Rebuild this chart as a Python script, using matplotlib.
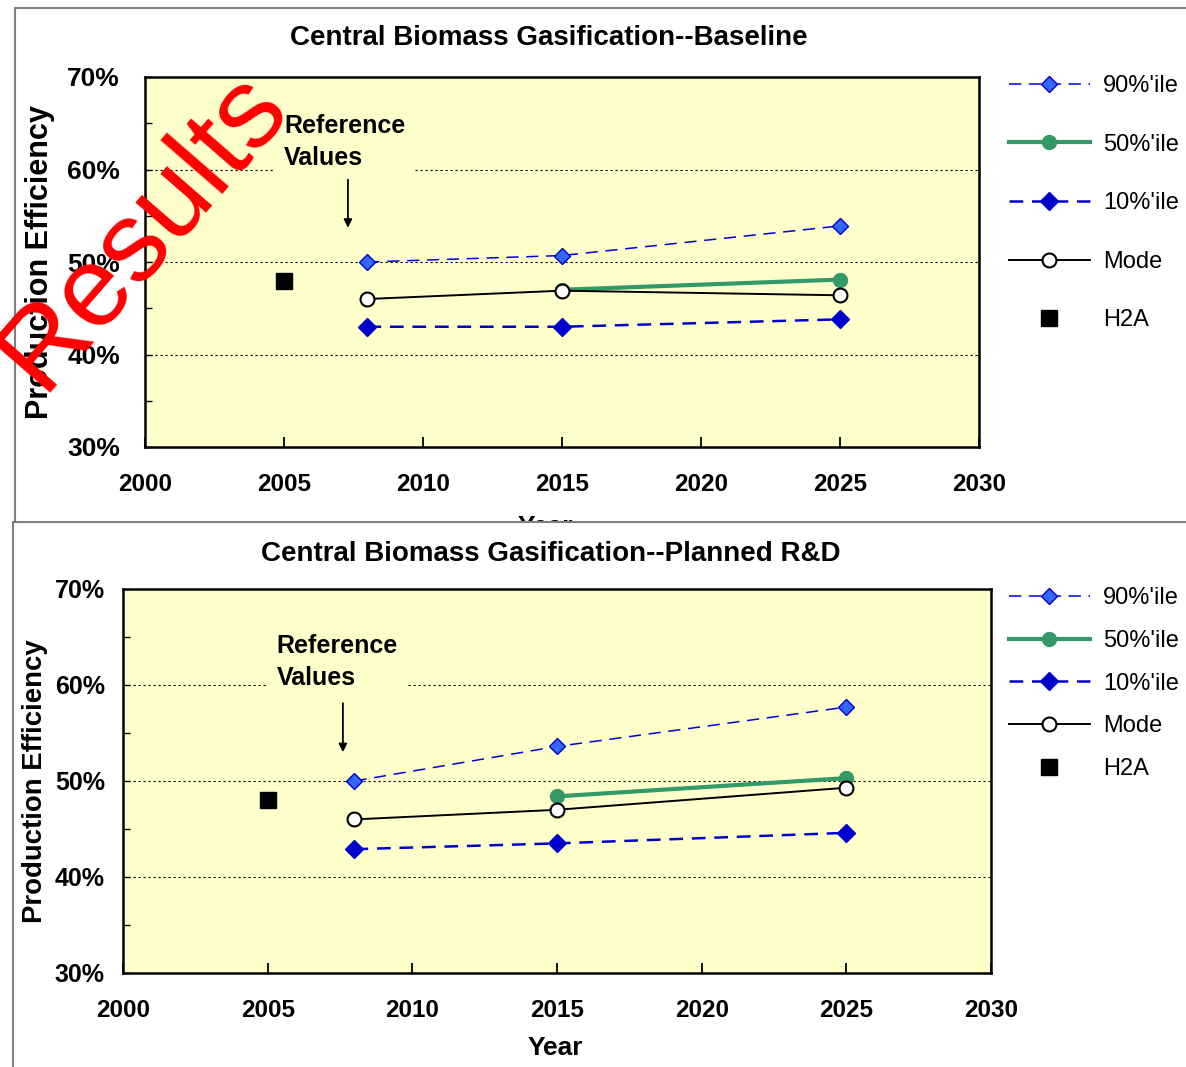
import matplotlib
matplotlib.use("Agg")
import matplotlib.pyplot as plt
from matplotlib.patches import Rectangle
from matplotlib.ticker import FixedLocator

W, H, DPI = 1186, 1067, 100

# ---- data -------------------------------------------------------------
years = [2008, 2015, 2025]
years_p50 = [2015, 2025]
h2a_year = [2005]

base_p90 = [50.0, 50.7, 53.9]
base_p50 = [47.0, 48.1]
base_p10 = [43.0, 43.0, 43.8]
base_mode = [46.0, 46.9, 46.4]
base_h2a = [48.0]

rd_p90 = [50.0, 53.6, 57.7]
rd_p50 = [48.4, 50.3]
rd_p10 = [42.9, 43.5, 44.6]
rd_mode = [46.0, 47.0, 49.3]
rd_h2a = [48.0]

x_ticks = [2000, 2005, 2010, 2015, 2020, 2025, 2030]
y_ticks = [30, 40, 50, 60, 70]
y_minor = [35, 45, 55, 65]
legend_labels = ["90%'ile", "50%'ile", "10%'ile", "Mode", "H2A"]

FACE = "#FFFFCC"
BOLD_FONT = ["Liberation Sans Narrow", "Liberation Sans", "DejaVu Sans"]
PLAIN_FONT = ["Liberation Sans Narrow", "Liberation Sans", "DejaVu Sans"]
TITLE_FONT = ["Liberation Sans", "DejaVu Sans"]


def fx(px):
    return px / W


def fy(py):
    return 1 - py / H


def axes_rect(left, top, right, bottom):
    return [left / W, 1 - bottom / H, (right - left) / W, (bottom - top) / H]


fig = plt.figure(figsize=(W / DPI, H / DPI), dpi=DPI, facecolor="white")


def panel(box, z, title, title_xy, ylabel_xy, ylabel_size, ytick_size, ytick_pad,
          year_xy, p90, p50, p10, mode, h2a, note_xy, arrow_xy, legend_top,
          legend_spacing):
    ax = fig.add_axes(axes_rect(*box), zorder=z)
    ax.set_facecolor(FACE)
    ax.set_xlim(2000, 2030)
    ax.set_ylim(30, 70)

    for s in ax.spines.values():
        s.set_linewidth(1.8)
        s.set_color("black")

    ax.yaxis.set_major_locator(FixedLocator(y_ticks))
    ax.yaxis.set_minor_locator(FixedLocator(y_minor))
    ax.set_yticklabels([f"{v}%" for v in y_ticks], fontweight="bold",
                       family=BOLD_FONT, fontsize=ytick_size)
    ax.xaxis.set_major_locator(FixedLocator(x_ticks))
    ax.set_xticklabels([str(v) for v in x_ticks], fontweight="bold",
                       family=BOLD_FONT, fontsize=17.5)
    ax.tick_params(axis="x", direction="in", length=7, width=1.3, pad=19)
    ax.tick_params(axis="y", which="both", direction="in", length=5,
                   width=1.0, pad=ytick_pad)
    ax.grid(axis="y", color="black", lw=0.8, ls=(0, (2, 2.5)))
    ax.set_axisbelow(True)

    l90, = ax.plot(years, p90, color="#0000DD", lw=1.1, dashes=(8, 5),
                   marker="D", ms=8.5, mfc="#3366FF", mec="#0000CC", mew=1.0)
    l50, = ax.plot(years_p50, p50, color="#339966", lw=3, marker="o", ms=10,
                   mfc="#339966", mec="#339966")
    l10, = ax.plot(years, p10, color="#0000CC", lw=1.8, dashes=(5.5, 3.5),
                   marker="D", ms=9, mfc="#0000CC", mec="#0000CC")
    lmo, = ax.plot(years, mode, color="black", lw=1.4, marker="o", ms=10,
                   mfc="white", mec="black", mew=1.5)
    lh2, = ax.plot(h2a_year, h2a, ls="none", marker="s", ms=11, color="black")

    ax.text(note_xy[0], note_xy[1], "Reference\nValues", ha="left", va="center",
            fontsize=18, fontweight="bold", family=TITLE_FONT, linespacing=1.42,
            bbox=dict(boxstyle="square,pad=0.4", facecolor=FACE,
                      edgecolor="none"), zorder=3)
    ax.annotate("", xy=(arrow_xy[0], arrow_xy[2]),
                xytext=(arrow_xy[0], arrow_xy[1]),
                arrowprops=dict(arrowstyle="-|>", color="black", lw=1.3,
                                mutation_scale=12, shrinkA=0, shrinkB=0),
                zorder=3)

    ax.legend([l90, l50, l10, lmo, lh2], legend_labels, loc="upper left",
              bbox_to_anchor=(fx(1009), fy(legend_top)),
              bbox_transform=fig.transFigure, frameon=False, numpoints=1,
              handlelength=3.43, handletextpad=0.55, borderpad=0,
              borderaxespad=0, labelspacing=legend_spacing,
              prop=dict(family=PLAIN_FONT, size=17))

    fig.text(fx(title_xy[0]), fy(title_xy[1]), title, ha="center",
             va="center", fontsize=20, fontweight="bold", family=TITLE_FONT,
             zorder=z + 0.01)
    fig.text(fx(ylabel_xy[0]), fy(ylabel_xy[1]), "Production Efficiency",
             rotation=90, ha="center", va="center", fontsize=ylabel_size,
             fontweight="bold", family=TITLE_FONT, zorder=z + 0.01)
    fig.text(fx(year_xy[0]), fy(year_xy[1]), "Year", ha="center", va="center",
             fontsize=19, fontweight="bold", family=TITLE_FONT,
             zorder=z + 0.01)
    return ax


# outer frame of the first chart
fig.add_artist(Rectangle((fx(15), fy(640)), (1240 - 15) / W, (640 - 8) / H,
                         transform=fig.transFigure, facecolor="white",
                         edgecolor="#808080", lw=1.5, zorder=0.1))

panel((145, 77, 979, 447), 0.2, "Central Biomass Gasification--Baseline",
      (549, 38), (40, 262), 22, 19, 18, (545, 527),
      base_p90, base_p50, base_p10, base_mode, base_h2a,
      (2005.0, 63.0), (2007.3, 58.9, 53.7), 75, 1.55)

# outer frame of the second chart (drawn over the lower edge of the first)
fig.add_artist(Rectangle((fx(13), fy(1120)), (1240 - 13) / W, (1120 - 522) / H,
                         transform=fig.transFigure, facecolor="white",
                         edgecolor="#808080", lw=1.5, zorder=0.5))

panel((123, 589, 991, 973), 0.6, "Central Biomass Gasification--Planned R&D",
      (551, 554), (35, 781), 19.8, 18, 13, (555, 1048),
      rd_p90, rd_p50, rd_p10, rd_mode, rd_h2a,
      (2005.3, 62.4), (2007.6, 58.1, 53.0), 587, 0.88)

fig.text(fx(143), fy(230), "Results", rotation=49, color="#FF0000",
         fontsize=82, family=["Liberation Sans", "DejaVu Sans"],
         ha="center", va="center", zorder=10)

fig.savefig("out.png", dpi=DPI, facecolor="white")
